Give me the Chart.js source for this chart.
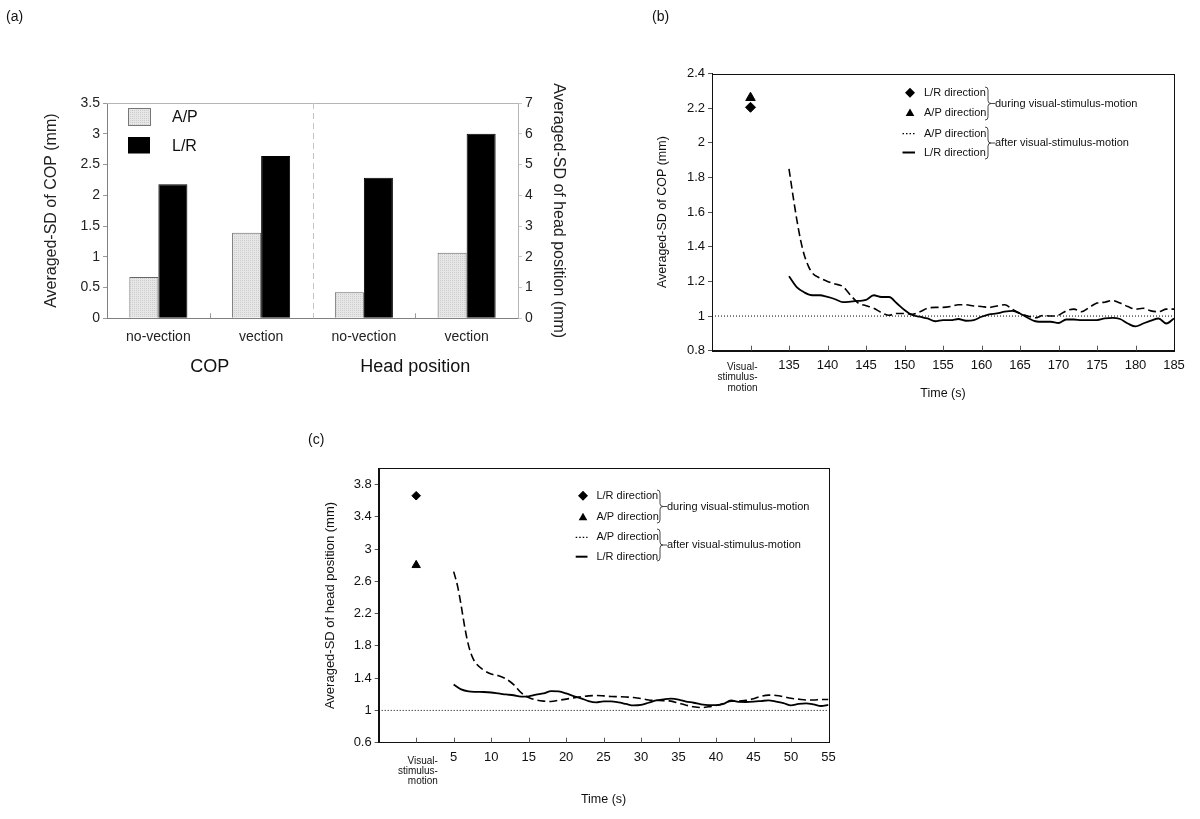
<!DOCTYPE html>
<html>
<head>
<meta charset="utf-8">
<script src="https://cdn.jsdelivr.net/npm/chart.js@4.4.1/dist/chart.umd.min.js"></script>
<style>
  body { margin: 0; background: #fff; font-family: "Liberation Sans", Arial, sans-serif; }
  #fig { position: relative; width: 1200px; height: 819px; overflow: hidden; }
  canvas { position: absolute; }
  .tag { position: absolute; font-size: 14px; color: #111; }
</style>
</head>
<body>
<div id="fig">
  <canvas id="chartA" width="600" height="400" style="left:0;top:0"></canvas>
  <canvas id="chartB" width="600" height="420" style="left:600px;top:0"></canvas>
  <canvas id="chartC" width="580" height="399" style="left:300px;top:420px"></canvas>
  <div class="tag" style="left:6px;top:8px">(a)</div>
  <div class="tag" style="left:652px;top:8px">(b)</div>
  <div class="tag" style="left:308px;top:431px">(c)</div>
</div>
<script>
const FONT = '"Liberation Sans", Arial, sans-serif';
Chart.defaults.font.family = FONT;
Chart.defaults.color = '#111';

// ---- (a) bar chart data ----
const groupsA = ['COP', 'Head position'];
const categoriesA = ['no-vection', 'vection', 'no-vection', 'vection'];
const seriesA = ['A/P', 'L/R'];
const copAP = [0.67, 1.39, null, null];
const copLR = [2.18, 2.64, null, null];
const headAP = [null, null, 0.85, 2.13];
const headLR = [null, null, 4.57, 6.0];
const yTicksA = [0, 0.5, 1, 1.5, 2, 2.5, 3, 3.5];
const y2TicksA = [0, 1, 2, 3, 4, 5, 6, 7];

// ---- (b) COP time course ----
const timesDashB = [135, 135.5, 136, 136.5, 137, 137.5, 138, 139, 140, 141, 142, 143, 144, 145, 146, 147, 148, 149, 150,
  151, 152, 153, 154, 155, 156, 157, 158, 159, 160, 161, 162, 163, 164, 165, 166, 167, 168, 169, 170,
  171, 172, 173, 174, 175, 176, 177, 178, 179, 180, 181, 182, 183, 184, 185];
const dashB = [1.85, 1.70, 1.56, 1.44, 1.35, 1.29, 1.25, 1.22, 1.20, 1.185, 1.17, 1.12, 1.075, 1.06, 1.045, 1.02, 1.005, 1.015, 1.015,
  1.01, 1.025, 1.045, 1.05, 1.05, 1.055, 1.065, 1.065, 1.058, 1.055, 1.05, 1.058, 1.065, 1.04, 1.015, 1.0, 0.99, 1.003, 1.0, 1.005,
  1.03, 1.04, 1.025, 1.05, 1.075, 1.08, 1.09, 1.075, 1.055, 1.04, 1.045, 1.03, 1.025, 1.04, 1.04];
const timesSolidB = [135, 136, 137, 138, 139, 140, 141, 142, 143, 144, 145, 146, 147, 148, 149, 150,
  151, 152, 153, 154, 155, 156, 157, 158, 159, 160, 161, 162, 163, 164, 165, 166, 167, 168, 169, 170,
  171, 172, 173, 174, 175, 176, 177, 178, 179, 180, 181, 182, 183, 184, 185];
const solidB = [1.23, 1.167, 1.136, 1.12, 1.12, 1.11, 1.097, 1.08, 1.083, 1.087, 1.093, 1.12, 1.11, 1.11, 1.074, 1.035,
  1.006, 0.996, 0.986, 0.97, 0.977, 0.977, 0.983, 0.973, 0.977, 0.996, 1.01, 1.015, 1.025, 1.03, 1.015, 0.99, 0.97, 0.967, 0.967, 0.96,
  0.98, 0.98, 0.977, 0.977, 0.977, 0.986, 0.99, 0.983, 0.957, 0.94, 0.957, 0.973, 0.986, 0.957, 0.986];
const duringTimeB = [130];
const duringLRB = [2.205];
const duringAPB = [2.26];
const xTicksB = [125, 130, 135, 140, 145, 150, 155, 160, 165, 170, 175, 180, 185];
const yTicksB = [0.8, 1, 1.2, 1.4, 1.6, 1.8, 2, 2.2, 2.4];

// ---- (c) head position time course ----
const timesDashC = [5, 5.5, 6, 6.5, 7, 7.5, 8, 9, 10, 11, 12, 13, 14, 15, 16, 17, 18, 19, 20,
  21, 22, 23, 24, 25, 26, 27, 28, 29, 30, 31, 32, 33, 34, 35, 36, 37, 38, 39, 40,
  41, 42, 43, 44, 45, 46, 47, 48, 49, 50, 51, 52, 53, 54, 55];
const dashC = [2.72, 2.55, 2.3, 2.02, 1.8, 1.66, 1.58, 1.5, 1.45, 1.43, 1.39, 1.32, 1.22, 1.16, 1.13, 1.115, 1.11, 1.125, 1.14,
  1.155, 1.17, 1.18, 1.185, 1.18, 1.172, 1.17, 1.166, 1.16, 1.148, 1.13, 1.125, 1.12, 1.115, 1.09, 1.065, 1.045, 1.035, 1.045, 1.06,
  1.085, 1.115, 1.115, 1.125, 1.145, 1.175, 1.19, 1.185, 1.17, 1.15, 1.14, 1.13, 1.13, 1.135, 1.135];
const timesSolidC = [5, 6, 7, 8, 9, 10, 11, 12, 13, 14, 15, 16, 17, 18, 19, 20,
  21, 22, 23, 24, 25, 26, 27, 28, 29, 30, 31, 32, 33, 34, 35, 36, 37, 38, 39, 40,
  41, 42, 43, 44, 45, 46, 47, 48, 49, 50, 51, 52, 53, 54, 55];
const solidC = [1.32, 1.26, 1.235, 1.23, 1.228, 1.222, 1.21, 1.198, 1.188, 1.17, 1.175, 1.195, 1.21, 1.24, 1.235, 1.21,
  1.178, 1.15, 1.115, 1.1, 1.112, 1.112, 1.1, 1.08, 1.062, 1.068, 1.095, 1.125, 1.137, 1.145, 1.135, 1.11, 1.095, 1.075, 1.065, 1.065,
  1.08, 1.125, 1.105, 1.104, 1.108, 1.116, 1.125, 1.11, 1.09, 1.062, 1.08, 1.087, 1.075, 1.055, 1.07];
const duringTimeC = [0];
const duringLRC = [3.66];
const duringAPC = [2.80];
const xTicksC = [-5, 0, 5, 10, 15, 20, 25, 30, 35, 40, 45, 50, 55];
const yTicksC = [0.6, 1, 1.4, 1.8, 2.2, 2.6, 3, 3.4, 3.8];

const refLevel = 1;
const legendRows = ['L/R direction', 'A/P direction', 'A/P direction', 'L/R direction'];
const legendGroups = ['during visual-stimulus-motion', 'after visual-stimulus-motion'];
const stimulusLabel = ['Visual-', 'stimulus-', 'motion'];

const pts = (xs, ys) => xs.map((t, i) => ({ x: t, y: ys[i] }));
const fmt = v => String(+v.toFixed(2));

function dotPattern() {
  const c = document.createElement('canvas');
  c.width = 2; c.height = 2;
  const g = c.getContext('2d');
  g.fillStyle = '#e6e6e6'; g.fillRect(0, 0, 2, 2);
  g.fillStyle = '#cdcdcd'; g.fillRect(0, 0, 1, 1);
  return g.createPattern(c, 'repeat');
}
const apFill = dotPattern();

// ---------- panel (a) ----------
const panelAExtras = {
  id: 'panelAExtras',
  afterDraw(chart) {
    const { ctx, chartArea: a, scales: { x } } = chart;
    ctx.save();
    ctx.lineWidth = 1;
    ctx.strokeStyle = '#b5b5b5';
    ctx.beginPath();
    ctx.moveTo(a.left, Math.round(a.top) + 0.5);
    ctx.lineTo(a.right, Math.round(a.top) + 0.5);
    ctx.stroke();

    const sx = Math.round(x.getPixelForValue(1.5)) + 0.5;
    ctx.setLineDash([6, 4]);
    ctx.strokeStyle = '#c4c4c4';
    ctx.beginPath(); ctx.moveTo(sx, a.top); ctx.lineTo(sx, a.bottom); ctx.stroke();
    ctx.setLineDash([]);

    ctx.strokeStyle = '#999';
    [0.5, 2.5].forEach(v => {
      const px = Math.round(x.getPixelForValue(v)) + 0.5;
      ctx.beginPath(); ctx.moveTo(px, a.bottom); ctx.lineTo(px, a.bottom - 5); ctx.stroke();
    });

    ctx.fillStyle = '#111';
    ctx.font = '18px ' + FONT;
    ctx.textAlign = 'center';
    ctx.textBaseline = 'middle';
    groupsA.forEach((g, i) => ctx.fillText(g, x.getPixelForValue(i * 2 + 0.5), a.bottom + 49));

    // legend
    const bx = a.left + 21;
    ctx.fillStyle = apFill;
    ctx.fillRect(bx, a.top + 5.5, 22, 17);
    ctx.strokeStyle = '#777';
    ctx.strokeRect(bx + 0.5, a.top + 5.5, 22, 17);
    ctx.fillStyle = '#000';
    ctx.fillRect(bx, a.top + 34, 22, 16.5);
    ctx.font = '16px ' + FONT;
    ctx.textAlign = 'left';
    ctx.fillStyle = '#111';
    ctx.fillText(seriesA[0], a.left + 65, a.top + 15);
    ctx.fillText(seriesA[1], a.left + 65, a.top + 44);
    ctx.restore();
  }
};

new Chart(document.getElementById('chartA'), {
  type: 'bar',
  data: {
    labels: categoriesA,
    datasets: [
      { label: seriesA[0], data: copAP, yAxisID: 'y', backgroundColor: apFill, borderColor: '#666', borderWidth: 1 },
      { label: seriesA[1], data: copLR, yAxisID: 'y', backgroundColor: '#000', borderColor: '#000', borderWidth: 1 },
      { label: seriesA[0], data: headAP, yAxisID: 'y2', backgroundColor: apFill, borderColor: '#666', borderWidth: 1 },
      { label: seriesA[1], data: headLR, yAxisID: 'y2', backgroundColor: '#000', borderColor: '#000', borderWidth: 1 }
    ]
  },
  options: {
    responsive: false,
    animation: false,
    devicePixelRatio: 1,
    layout: { padding: { left: 38.4, top: 103, right: 28.4, bottom: 0 } },
    datasets: { bar: { skipNull: true, categoryPercentage: 0.565, barPercentage: 1 } },
    plugins: { legend: { display: false }, tooltip: { enabled: false } },
    scales: {
      x: {
        afterFit: s => { s.height = 81.7; },
        grid: { display: false, drawTicks: false },
        border: { display: true, color: '#808080' },
        ticks: { font: { size: 14 }, color: '#222', padding: 10, maxRotation: 0, autoSkip: false }
      },
      y: {
        position: 'left',
        min: 0, max: 3.5,
        afterBuildTicks: ax => { ax.ticks = yTicksA.map(v => ({ value: v })); },
        afterFit: s => { s.width = 68.6; },
        grid: { drawOnChartArea: false, tickLength: 4, color: '#999' },
        border: { color: '#808080' },
        ticks: { font: { size: 14 }, color: '#222', padding: 3, callback: fmt },
        title: { display: true, text: 'Averaged-SD of COP (mm)', font: { size: 16 }, color: '#222', padding: { top: 4, bottom: 4 } }
      },
      y2: {
        position: 'right',
        min: 0, max: 7,
        afterBuildTicks: ax => { ax.ticks = y2TicksA.map(v => ({ value: v })); },
        afterFit: s => { s.width = 53.6; },
        grid: { drawOnChartArea: false, tickLength: 4, color: '#c8c8c8' },
        border: { color: '#b5b5b5' },
        ticks: { font: { size: 14 }, color: '#222', padding: 3, callback: fmt },
        title: { display: true, text: 'Averaged-SD of head position (mm)', font: { size: 16 }, color: '#222', padding: { top: 4, bottom: 4 } }
      }
    }
  },
  plugins: [panelAExtras]
});

// ---------- panels (b) and (c) ----------
function diamond(ctx, x, y, r) {
  ctx.beginPath();
  ctx.moveTo(x, y - r); ctx.lineTo(x + r, y); ctx.lineTo(x, y + r); ctx.lineTo(x - r, y);
  ctx.closePath(); ctx.fill();
}
function triangle(ctx, x, y, r) {
  ctx.beginPath();
  ctx.moveTo(x, y - r); ctx.lineTo(x + 0.866 * r, y + 0.5 * r); ctx.lineTo(x - 0.866 * r, y + 0.5 * r);
  ctx.closePath(); ctx.fill();
}
function brace(ctx, x0, top, bottom) {
  const mid = (top + bottom) / 2, v = x0 + 3;
  ctx.beginPath();
  ctx.moveTo(x0, top);
  ctx.quadraticCurveTo(v, top, v, top + 3);
  ctx.lineTo(v, mid - 3);
  ctx.quadraticCurveTo(v, mid, v + 3, mid);
  ctx.quadraticCurveTo(v, mid, v, mid + 3);
  ctx.lineTo(v, bottom - 3);
  ctx.quadraticCurveTo(v, bottom, x0, bottom);
  ctx.moveTo(v + 3, mid); ctx.lineTo(v + 7, mid);
  ctx.stroke();
}

function timeExtras(o) {
  return {
    id: 'timeExtras',
    afterDraw(chart) {
      const { ctx, chartArea: a, scales: { x } } = chart;
      ctx.save();
      ctx.lineWidth = 1;
      ctx.strokeStyle = '#111';
      ctx.strokeRect(Math.round(a.left) + 0.5, Math.round(a.top) + 0.5, Math.round(a.right - a.left), Math.round(a.bottom - a.top));

      ctx.strokeStyle = '#555';
      x.ticks.forEach(t => {
        if (t.value <= x.min || t.value >= x.max) return;
        const px = Math.round(x.getPixelForValue(t.value)) + 0.5;
        ctx.beginPath(); ctx.moveTo(px, a.bottom); ctx.lineTo(px, a.bottom - 5); ctx.stroke();
      });

      ctx.fillStyle = '#111';
      ctx.font = '10px ' + FONT;
      ctx.textAlign = 'right';
      ctx.textBaseline = 'middle';
      const vx = x.getPixelForValue(o.vsTime) + o.vsDx;
      stimulusLabel.forEach((s, i) => ctx.fillText(s, vx, a.bottom + o.vsDy + i * o.vsLead));

      // legend
      const L = o.legend;
      ctx.fillStyle = '#000';
      diamond(ctx, L.mx, L.rows[0], L.dr);
      triangle(ctx, L.mx, L.rows[1] + 1, L.tr);
      ctx.strokeStyle = '#000';
      ctx.lineWidth = 1.3;
      ctx.setLineDash([1.5, 2]);
      ctx.beginPath(); ctx.moveTo(L.lx1, L.rows[2]); ctx.lineTo(L.lx2, L.rows[2]); ctx.stroke();
      ctx.setLineDash([]);
      ctx.lineWidth = 2;
      ctx.beginPath(); ctx.moveTo(L.lx1, L.rows[3]); ctx.lineTo(L.lx2, L.rows[3]); ctx.stroke();

      ctx.font = '11px ' + FONT;
      ctx.textAlign = 'left';
      ctx.fillStyle = '#111';
      legendRows.forEach((s, i) => ctx.fillText(s, L.tx, L.rows[i]));
      ctx.lineWidth = 0.9;
      ctx.strokeStyle = '#333';
      L.braces.forEach((b, i) => {
        brace(ctx, L.bx, b[0], b[1]);
        ctx.fillText(legendGroups[i], L.bx + 10, (b[0] + b[1]) / 2);
      });
      ctx.restore();
    }
  };
}

function timeChart(id, c) {
  return new Chart(document.getElementById(id), {
    type: 'scatter',
    data: {
      datasets: [
        { data: [{ x: c.xTicks[0], y: refLevel }, { x: c.xTicks[c.xTicks.length - 1], y: refLevel }], showLine: true,
          borderColor: '#000', borderWidth: 1, borderDash: [1, 2], pointRadius: 0 },
        { data: c.dash, showLine: true, borderColor: '#000', borderWidth: 1.6, borderDash: [8, 4],
          pointRadius: 0, cubicInterpolationMode: 'monotone' },
        { data: c.solid, showLine: true, borderColor: '#000', borderWidth: 1.8,
          pointRadius: 0, cubicInterpolationMode: 'monotone' },
        { data: c.lr, pointStyle: 'rectRot', pointRadius: c.dr, backgroundColor: '#000', borderColor: '#000' },
        { data: c.ap, pointStyle: 'triangle', pointRadius: c.tr, backgroundColor: '#000', borderColor: '#000' }
      ]
    },
    options: {
      responsive: false,
      animation: false,
      devicePixelRatio: 1,
      layout: { padding: c.padding },
      plugins: { legend: { display: false }, tooltip: { enabled: false } },
      scales: {
        x: {
          type: 'linear',
          min: c.xTicks[0], max: c.xTicks[c.xTicks.length - 1],
          afterBuildTicks: ax => { ax.ticks = c.xTicks.map(v => ({ value: v })); },
          afterFit: s => { s.height = c.xHeight; },
          grid: { display: false, drawTicks: false },
          border: { display: true, color: '#111' },
          ticks: { font: { size: 13 }, color: '#111', padding: 7, maxRotation: 0, autoSkip: false,
                   callback: v => (v < c.firstLabel ? '' : String(v)) },
          title: { display: true, text: 'Time (s)', font: { size: 12.5 }, color: '#111', padding: { top: 4, bottom: 4 } }
        },
        y: {
          min: c.yMin, max: c.yMax,
          afterBuildTicks: ax => { ax.ticks = c.yTicks.map(v => ({ value: v })); },
          afterFit: s => { s.width = c.yWidth; },
          grid: { drawOnChartArea: false, tickLength: 4, color: '#555' },
          border: { color: '#111' },
          ticks: { font: { size: 13 }, color: '#111', padding: 3, callback: fmt },
          title: { display: true, text: c.yTitle, font: { size: c.yTitleSize }, color: '#111', padding: { top: 4, bottom: 4 } }
        }
      }
    },
    plugins: [timeExtras(c.extras)]
  });
}

timeChart('chartB', {
  xTicks: xTicksB, yTicks: yTicksB, yMin: 0.8, yMax: 2.4, firstLabel: 135,
  dash: pts(timesDashB, dashB), solid: pts(timesSolidB, solidB),
  lr: pts(duringTimeB, duringLRB), ap: pts(duringTimeB, duringAPB), dr: 5, tr: 5.5,
  padding: { left: 51.5, top: 73.5, right: 26, bottom: 14.5 },
  xHeight: 54.8, yWidth: 60.5,
  yTitle: 'Averaged-SD of COP (mm)', yTitleSize: 12.5,
  extras: {
    vsTime: 130, vsDx: 7, vsDy: 16.5, vsLead: 10.5,
    legend: { mx: 310, tx: 324, lx1: 302.5, lx2: 315, rows: [92.8, 112.5, 133.7, 152.5], dr: 5, tr: 5,
              bx: 385, braces: [[87, 120], [127, 159]] }
  }
});

timeChart('chartC', {
  xTicks: xTicksC, yTicks: yTicksC, yMin: 0.6, yMax: 4.0, firstLabel: 5,
  dash: pts(timesDashC, dashC), solid: pts(timesSolidC, solidC),
  lr: pts(duringTimeC, duringLRC), ap: pts(duringTimeC, duringAPC), dr: 4.3, tr: 4.8,
  padding: { left: 18.2, top: 48.3, right: 51.5, bottom: 7.5 },
  xHeight: 68.8, yWidth: 60.5,
  yTitle: 'Averaged-SD of head position (mm)', yTitleSize: 13,
  extras: {
    vsTime: 0, vsDx: 21.7, vsDy: 19, vsLead: 10,
    legend: { mx: 283, tx: 296.4, lx1: 275.7, lx2: 287.5, rows: [75.7, 96.7, 117.3, 136.7], dr: 5, tr: 5,
              bx: 357, braces: [[70, 103], [109, 141]] }
  }
});
</script>
</body>
</html>
